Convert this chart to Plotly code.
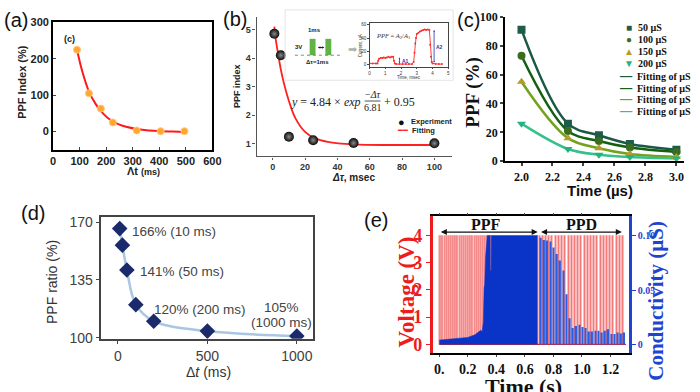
import plotly.graph_objects as go

W, H = 700, 392
def px(x): return x / W
def py(y): return 1 - y / H

SANS = "Liberation Sans, Arial, sans-serif"
SERIF = "Liberation Serif, Times New Roman, serif"

# ---------------- data ----------------
# (a)
a_dt = [90, 135, 180, 225, 315, 405, 495]
a_ppf = [225, 105, 63, 25, 3, 1, 1]
a_fit_dt = [90, 110, 135, 160, 180, 205, 225, 250, 275, 315, 360, 405, 450, 495]
a_fit_ppf = [225, 165, 110, 76, 56, 38, 28, 19, 13, 7, 3, 1, 0, -1]

# (b)
b_dt = [1, 5, 10, 25, 50, 100]
b_ppf = [4.85, 4.1, 1.25, 1.13, 1.03, 1.02]
b_fit_dt = [1, 2, 3, 5, 7, 10, 14, 20, 26, 34, 50, 75, 100]
b_fit_ppf = [5.1, 4.6, 4.25, 3.6, 3.1, 2.5, 1.9, 1.42, 1.2, 1.07, 0.98, 0.96, 0.96]
inset_t = [0.0, 0.2, 0.4, 0.5, 0.55, 0.6, 0.7, 0.8, 0.9, 1.0, 1.1, 1.2, 1.3, 1.4, 1.5,
           1.55, 1.6, 1.7, 1.9, 2.1, 2.3, 2.5, 2.7, 2.8, 2.85, 2.9, 2.95, 3.0, 3.1, 3.2,
           3.3, 3.4, 3.5, 3.6, 3.7, 3.8, 3.85, 3.9, 3.95, 4.0, 4.2, 4.4, 4.6]
inset_i = [2, 2, 2, 2, 6, 9, 10, 10, 11, 10, 11, 12, 11, 12, 12,
           6, 2, 1, 1, 1, 1, 1, 1, 4, 18, 32, 40, 46, 48, 50,
           51, 52, 53, 52, 53, 52, 30, 12, 4, 2, 1, 1, 1]

# (c)
c_time = [2.0, 2.3, 2.5, 2.7, 3.0]
c_50 = [91, 26, 18, 12, 8]
c_100 = [73, 21, 14, 9.5, 6.5]
c_150 = [55, 16, 9, 5, 3]
c_200 = [26, 8.5, 4.5, 3, 2]
c_labels = ["50 µS", "100 µS", "150 µS", "200 µS"]

# (d)
d_dt = [10, 25, 50, 100, 200, 500, 1000]
d_ratio = [166, 156, 141, 120, 110, 104, 101]

# (e)
pulse_amplitude = 4.0
ppf_pulse_t = [0.005, 0.020, 0.035, 0.050, 0.065, 0.080, 0.095, 0.110, 0.125, 0.140,
               0.155, 0.170, 0.185, 0.200, 0.215, 0.230, 0.245, 0.260, 0.275, 0.290,
               0.305, 0.320, 0.335, 0.350, 0.360]
ppd_pulse_t = [0.700, 0.723, 0.745, 0.768, 0.790, 0.813, 0.835, 0.858, 0.880, 0.903,
               0.925, 0.948, 0.970, 0.993, 1.015, 1.038, 1.060, 1.083, 1.105, 1.128,
               1.150, 1.173, 1.195, 1.218, 1.240, 1.263, 1.285]
ppf_cond_t = [0.000, 0.040, 0.080, 0.120, 0.160, 0.200, 0.230, 0.250, 0.270, 0.290,
              0.300, 0.308, 0.314, 0.318, 0.324, 0.330, 0.336, 0.340, 0.356, 0.357,
              0.363, 0.364, 0.690]
ppf_cond_g = [0.004, 0.0045, 0.0045, 0.005, 0.006, 0.0065, 0.008, 0.009, 0.011, 0.013,
              0.012, 0.020, 0.052, 0.055, 0.080, 0.095, 0.100, 0.100, 0.100, 0.068,
              0.068, 0.100, 0.100]
ppd_read_t = [0.712, 0.735, 0.757, 0.780, 0.802, 0.825, 0.847, 0.870, 0.892, 0.915,
              0.937, 0.960, 0.982, 1.005, 1.027, 1.050, 1.072, 1.095, 1.117, 1.140,
              1.162, 1.185, 1.207, 1.230, 1.252, 1.275, 1.297]
ppd_read_g = [0.098, 0.096, 0.0955, 0.0945, 0.089, 0.083, 0.077, 0.068, 0.046, 0.024,
              0.015, 0.017, 0.018, 0.016, 0.015, 0.012, 0.012, 0.0125, 0.0125, 0.011,
              0.0125, 0.014, 0.0095, 0.0095, 0.011, 0.010, 0.011]
e_time_span = [0.0, 1.31]
e_base_v = [0.0, 0.0]

# ---------------- traces ----------------
fig = go.Figure()
NL = dict(showlegend=False, hoverinfo="skip")

# (a)
fig.add_trace(go.Scatter(x=a_fit_dt, y=a_fit_ppf, mode="lines",
                         line=dict(color="#ff1a1a", width=2, shape="spline"),
                         xaxis="x", yaxis="y", **NL))
fig.add_trace(go.Scatter(x=a_dt, y=a_ppf, mode="markers",
                         marker=dict(color="#ffa530", size=7, line=dict(color="#ffc878", width=1)),
                         xaxis="x", yaxis="y", **NL))

# (b)
fig.add_trace(go.Scatter(x=b_fit_dt, y=b_fit_ppf, mode="lines",
                         line=dict(color="#ff2020", width=1.8, shape="spline"),
                         xaxis="x2", yaxis="y2", **NL))
fig.add_trace(go.Scatter(x=b_dt, y=b_ppf, mode="markers",
                         marker=dict(color="#0a0a0a", size=10,
                                     gradient=dict(type="radial", color="#8a8a8a"),
                                     line=dict(width=0)),
                         xaxis="x2", yaxis="y2", **NL))
fig.add_trace(go.Scatter(x=inset_t, y=inset_i, mode="lines+markers",
                         line=dict(color="#ff2a2a", width=0.9),
                         marker=dict(color="#ff2a2a", size=2),
                         xaxis="x3", yaxis="y3", **NL))

# (c)
c_vals = [c_50, c_100, c_150, c_200]
c_marker_col = ["#1d5c49", "#3a6d1f", "#b49b2a", "#22b480"]
c_line_col = ["#1b5846", "#126010", "#75a21c", "#36c08a"]
c_sym = ["square", "circle", "triangle-up", "triangle-down"]
for vals, lc in zip(c_vals, c_line_col):
    fig.add_trace(go.Scatter(x=c_time, y=vals, mode="lines",
                             line=dict(color=lc, width=2.5, shape="spline"),
                             xaxis="x4", yaxis="y4", **NL))
for vals, mc, sym, lab in zip(c_vals, c_marker_col, c_sym, c_labels):
    fig.add_trace(go.Scatter(x=c_time, y=vals, mode="markers", name=lab,
                             marker=dict(color=mc, size=8, symbol=sym, line=dict(width=0)),
                             xaxis="x4", yaxis="y4", **NL))

# (d)
fig.add_trace(go.Scatter(x=d_dt, y=d_ratio, mode="lines",
                         line=dict(color="#a9c6e3", width=2.5, shape="spline"),
                         xaxis="x5", yaxis="y5", **NL))
fig.add_trace(go.Scatter(x=d_dt, y=d_ratio, mode="markers",
                         marker=dict(color="#1b2a6b", size=12, symbol="diamond", line=dict(width=0)),
                         xaxis="x5", yaxis="y5", **NL))

# (e)
fig.add_trace(go.Bar(x=ppf_pulse_t, y=[pulse_amplitude] * len(ppf_pulse_t), width=0.010,
                     marker=dict(color="#f48a8a", line=dict(width=0)),
                     xaxis="x6", yaxis="y6", **NL))
fig.add_trace(go.Bar(x=ppd_pulse_t, y=[pulse_amplitude] * len(ppd_pulse_t), width=0.007,
                     marker=dict(color="#f47a7a", line=dict(width=0)),
                     xaxis="x6", yaxis="y6", **NL))
fig.add_trace(go.Scatter(x=e_time_span, y=e_base_v, mode="lines",
                         line=dict(color="#e02020", width=1.2),
                         xaxis="x6", yaxis="y6", **NL))
fig.add_trace(go.Scatter(x=ppf_cond_t, y=ppf_cond_g, mode="lines", fill="tozeroy",
                         fillcolor="#0a34c8", line=dict(color="#0a34c8", width=0.5),
                         xaxis="x6", yaxis="y7", **NL))
fig.add_trace(go.Bar(x=ppd_read_t, y=ppd_read_g, width=0.011,
                     marker=dict(color="#2b5de0", line=dict(width=0)),
                     xaxis="x6", yaxis="y7", **NL))

# ---------------- axes ----------------
def ax(**kw):
    base = dict(showgrid=False, zeroline=False, showline=True)
    base.update(kw)
    return base

fa = dict(family=SANS, size=11, color="#222", weight="bold")
fb = dict(family=SANS, size=9, color="#333", weight="bold")
fc = dict(family=SERIF, size=12, color="#111", weight="bold")
fd = dict(family=SANS, size=14, color="#404040")

layout = dict(
    width=W, height=H, margin=dict(l=0, r=0, t=0, b=0),
    paper_bgcolor="white", plot_bgcolor="white", barmode="overlay", showlegend=False,
    xaxis=ax(domain=[px(51), px(213)], anchor="y", range=[0, 600], tickvals=[0, 100, 200, 300, 400, 500, 600],
             mirror=True, linecolor="black", linewidth=2, ticks="inside", ticklen=3, tickfont=fa),
    yaxis=ax(domain=[py(148), py(16)], anchor="x", range=[-50, 300], tickvals=[0, 100, 200, 300],
             mirror=True, linecolor="black", linewidth=2, ticks="inside", ticklen=3, tickfont=fa),
    xaxis2=ax(domain=[px(258), px(457)], anchor="y2", range=[-10, 111], tickvals=[0, 20, 40, 60, 80, 100],
              linecolor="#555", linewidth=1.2, ticks="outside", ticklen=2, tickcolor="#555", tickfont=fb),
    yaxis2=ax(domain=[py(155), py(10)], anchor="x2", range=[0.56, 5.45], tickvals=[1, 2, 3, 4, 5],
              linecolor="#555", linewidth=1.2, ticks="outside", ticklen=3, tickcolor="#555", tickfont=fb),
    xaxis3=ax(domain=[px(373), px(453)], anchor="y3", range=[0, 5], tickvals=[0, 1, 2, 3, 4, 5],
              mirror=True, linecolor="#444", linewidth=0.7, ticks="outside", ticklen=1.5,
              tickfont=dict(family=SANS, size=4.5, color="#333")),
    yaxis3=ax(domain=[py(62), py(17)], anchor="x3", range=[-3, 62], tickvals=[0, 20, 40, 60],
              mirror=True, linecolor="#444", linewidth=0.7, ticks="outside", ticklen=1.5,
              tickfont=dict(family=SANS, size=4.5, color="#333")),
    xaxis4=ax(domain=[px(511), px(693)], anchor="y4", range=[1.895, 3.05],
              tickvals=[2.0, 2.2, 2.4, 2.6, 2.8, 3.0], ticktext=["2.0", "2.2", "2.4", "2.6", "2.8", "3.0"],
              linecolor="black", linewidth=2, ticks="outside", ticklen=3, tickwidth=1.5, tickfont=fc),
    yaxis4=ax(domain=[py(160), py(10)], anchor="x4", range=[0, 100], tickvals=[0, 20, 40, 60, 80, 100],
              linecolor="black", linewidth=2, ticks="outside", ticklen=3, tickwidth=1.5, tickfont=fc),
    xaxis5=ax(domain=[px(100), px(315)], anchor="y5", range=[-93, 1088], tickvals=[0, 500, 1000],
              mirror=True, linecolor="#444", linewidth=1.5, ticks="outside", ticklen=4, tickcolor="#444", tickfont=fd),
    yaxis5=ax(domain=[py(344), py(218)], anchor="x5", range=[99.4, 172.9], tickvals=[100, 135, 170],
              mirror=True, linecolor="#444", linewidth=1.5, ticks="outside", ticklen=4, tickcolor="#444", tickfont=fd),
    xaxis6=ax(domain=[px(437), px(637)], anchor="y6", range=[-0.048, 1.331],
              tickvals=[0, 0.2, 0.4, 0.6, 0.8, 1.0, 1.2], ticktext=["0.", "0.2", "0.4", "0.6", "0.8", "1.0", "1.2"],
              mirror="ticks", linecolor="black", linewidth=1.5, ticks="outside", ticklen=2,
              tickfont=dict(family=SERIF, size=14, color="#111", weight="bold")),
    yaxis6=ax(domain=[py(359), py(217)], anchor="x6", range=[-0.32, 4.7], tickvals=[0, 1, 2, 3, 4],
              linecolor="#ee1c1c", linewidth=2.5, ticks="outside", ticklen=4, tickcolor="#ee1c1c",
              tickfont=dict(family=SERIF, size=18, color="#ee1c1c", weight="bold")),
    yaxis7=ax(overlaying="y6", side="right", anchor="x6", range=[-0.008, 0.1177],
              tickvals=[0, 0.05, 0.10], ticktext=["0", "0.05", "0.10"],
              linecolor="#1f45d0", linewidth=2.5, ticks="outside", ticklen=4, tickcolor="#1f45d0",
              tickfont=dict(family=SERIF, size=10, color="#1f45d0", weight="bold")),
)

# ---------------- annotations ----------------
def T(text, x, y, size, color="#000", family=SANS, xa="center", ya="middle", angle=0,
      xref="paper", yref="paper"):
    return dict(text=text, x=px(x) if xref == "paper" else x, y=py(y) if yref == "paper" else y,
                xref=xref, yref=yref, showarrow=False, xanchor=xa, yanchor=ya, textangle=angle,
                font=dict(family=family, size=size, color=color))

anns = []
# panel labels
for lab, x, y in [("(a)", 13, 13), ("(b)", 236, 12), ("(c)", 474, 13), ("(d)", 31, 214), ("(e)", 380, 221)]:
    anns.append(T(lab, x, y, 20, "#111"))

# (a)
anns.append(T("<b>(c)</b>", 68, 33, 9, "#222"))
anns.append(T("<b>PPF Index (%)</b>", 20, 78, 11, "#222", angle=-90))
anns.append(T("<b>Λt <span style='font-size:9px'>(ms)</span></b>", 143, 170, 11, "#222"))

# (b)
anns.append(T("<b>PPF index</b>", 238, 82, 9, "#222", angle=-90))
anns.append(T("<b><i>Δτ</i>, msec</b>", 357, 177, 10, "#222"))
anns.append(T("<i>y</i> = 4.84 × <i>exp</i>", 366, 98, 12, "#222", SERIF, xa="right"))
anns.append(T("−<i>Δτ</i>", 376, 91, 10, "#222", SERIF))
anns.append(T("6.81", 376, 104, 10, "#222", SERIF))
anns.append(T("+ 0.95", 386, 98, 12, "#222", SERIF, xa="left"))
anns.append(T("●", 405, 119, 11, "#111"))
anns.append(T("<b>Experiment</b>", 413, 119, 7.5, "#222", xa="left"))
anns.append(T("━━", 406, 128, 8, "#ff2020"))
anns.append(T("<b>Fitting</b>", 414, 128, 7.5, "#222", xa="left"))
# schematic
anns.append(T("<b>1ms</b>", 317, 24, 6, "#222"))
anns.append(T("<b>3V</b>", 301, 42, 6, "#222"))
anns.append(T("<b>Δτ=1ms</b>", 320, 57, 6, "#222"))
anns.append(T("➡", 356, 44, 11, "#b0b0b0"))
anns.append(dict(text="", x=px(327), y=py(42), xref="paper", yref="paper", ax=-8, ay=0,
                 showarrow=True, arrowhead=2, arrowside="end+start", arrowsize=0.5, arrowwidth=1,
                 arrowcolor="#222"))
anns.append(T("<i>PPF</i> = <i>A</i><sub>2</sub>/<i>A</i><sub>1</sub>", 397, 30, 6.5, "#333", SERIF))
anns.append(T("Time, msec", 413, 73.5, 4.5, "#333"))
anns.append(T("Current, uA", 364, 40, 4.5, "#333", angle=-90))
for xx, top, bot in [(1.9, 11, 0), (4.1, 52, 1)]:
    anns.append(dict(text="", x=xx, y=top, ax=xx, ay=bot, xref="x3", yref="y3", axref="x3", ayref="y3",
                     showarrow=True, arrowhead=2, arrowside="end+start", arrowsize=0.4, arrowwidth=0.8,
                     arrowcolor="#2233aa"))
anns.append(T("<b>A1</b>", 2.3, 5, 5, "#2233aa", xref="x3", yref="y3"))
anns.append(T("<b>A2</b>", 4.45, 27, 5, "#2233aa", xref="x3", yref="y3"))

# (c)
anns.append(T("<b>PPF (%)</b>", 478, 88, 19, "#111", SERIF, angle=-90))
anns.append(T("<b>Time (µs)</b>", 607, 190, 15, "#111"))
c_glyph = ["■", "●", "▲", "▼"]
c_rows = [21, 34, 46.5, 58.5]
for g, col, lab, yy in zip(c_glyph, c_marker_col, c_labels, c_rows):
    anns.append(T(g, 636.5, yy, 10, col))
    anns.append(T("<b>%s</b>" % lab, 644, yy, 10, "#111", SERIF, xa="left"))
for col, yy in zip(c_line_col, [72, 84, 96, 108]):
    anns.append(T("━━━", 633.5, yy, 6.5, col))
    anns.append(T("<b>Fitting of µS</b>", 643, yy, 10, "#111", SERIF, xa="left"))

# (d)
anns.append(T("PPF ratio (%)", 50, 285, 14, "#333", angle=-90))
anns.append(T("Δ<i>t</i> (ms)", 209, 378, 14, "#333"))
anns.append(T("166% (10 ms)", 129, 233, 13.5, "#444", xa="left"))
anns.append(T("141% (50 ms)", 137, 274, 13.5, "#444", xa="left"))
anns.append(T("120% (200 ms)", 152, 314, 13.5, "#444", xa="left"))
anns.append(T("105%", 283, 312, 13.5, "#444"))
anns.append(T("(1000 ms)", 283, 327, 13.5, "#444"))

# (e)
anns.append(T("<b>Voltage (V)</b>", 411, 295, 23, "#ee1c1c", SERIF, angle=-90))
anns.append(T("<b>Conductivity (µS)</b>", 664, 305, 21, "#1f45d0", SERIF, angle=-90))
anns.append(T("<b>Time (s)</b>", 530, 378, 22, "#111", SERIF, ya="top"))
anns.append(T("<b>PPF</b>", 0.33, 4.38, 16, "#111", SERIF, xref="x6", yref="y6"))
anns.append(T("<b>PPD</b>", 1.0, 4.38, 16, "#111", SERIF, xref="x6", yref="y6"))
for x0, x1 in [(0.0, 0.69), (0.703, 1.28)]:
    anns.append(dict(text="", x=x1, y=4.12, ax=x0, ay=4.12, xref="x6", yref="y6", axref="x6", ayref="y6",
                     showarrow=True, arrowhead=2, arrowside="end+start", arrowsize=1, arrowwidth=1.2,
                     arrowcolor="#111"))

layout["annotations"] = anns

# ---------------- shapes (schematic decorations) ----------------
shapes = [
    dict(type="rect", xref="paper", yref="paper", x0=px(287), x1=px(458), y0=py(76), y1=py(3),
         line=dict(color="#e4e4e4", width=1)),
    dict(type="rect", xref="paper", yref="paper", x0=px(312), x1=px(318), y0=py(50), y1=py(33),
         fillcolor="#62b346", line=dict(width=0)),
    dict(type="rect", xref="paper", yref="paper", x0=px(328), x1=px(334), y0=py(50), y1=py(33),
         fillcolor="#62b346", line=dict(width=0)),
    dict(type="line", xref="paper", yref="paper", x0=px(297), x1=px(345), y0=py(50), y1=py(50),
         line=dict(color="#666", width=0.8, dash="dot")),
    dict(type="line", xref="paper", yref="paper", x0=px(368), x1=px(384), y0=py(97.5), y1=py(97.5),
         line=dict(color="#222", width=0.8)),
]
layout["shapes"] = shapes

fig.update_layout(**layout)
fig.write_html("out.html")
